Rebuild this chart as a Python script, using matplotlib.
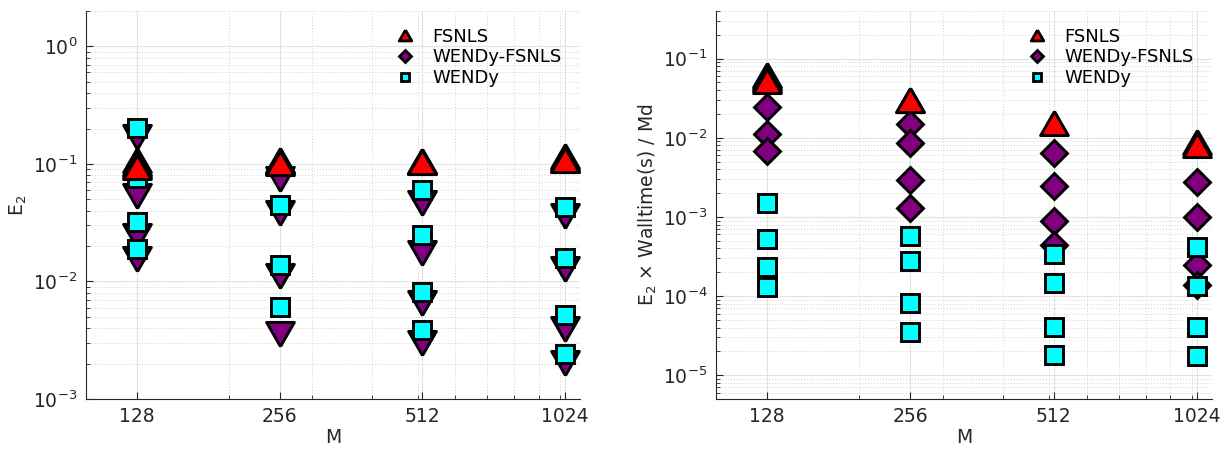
import numpy as np
import matplotlib
matplotlib.use("Agg")
import matplotlib.pyplot as plt
from matplotlib.lines import Line2D
from matplotlib.ticker import FixedLocator, NullFormatter, LogLocator

# number of observations per trajectory
M_values = [128, 256, 512, 1024]

# relative coefficient error E_2 (several noise levels per M)
err_fsnls = [
    [0.108, 0.102, 0.097, 0.094],
    [0.108, 0.105, 0.103, 0.101],
    [0.105, 0.104, 0.105, 0.104],
    [0.117, 0.112, 0.109, 0.109],
]
err_wendy_fsnls = [
    [0.169, 0.053, 0.0245, 0.0155],
    [0.074, 0.0381, 0.0111, 0.00359],
    [0.0463, 0.0175, 0.00658, 0.00301],
    [0.0359, 0.0128, 0.00395, 0.00204],
]
err_wendy = [
    [0.204, 0.0754, 0.0323, 0.0190],
    [0.0449, 0.0139, 0.0061],
    [0.060, 0.025, 0.0082, 0.0039],
    [0.043, 0.0157, 0.0052, 0.0024],
]

# E_2 x walltime / (M d)
cost_fsnls = [
    [0.062, 0.058, 0.055, 0.052],
    [0.0301, 0.0301],
    [0.0155],
    [0.0088, 0.0080],
]
cost_wendy_fsnls = [
    [0.0242, 0.0111, 0.0068],
    [0.0148, 0.00855, 0.00293, 0.00131],
    [0.0064, 0.00247, 0.000896, 0.00044],
    [0.00273, 0.00101, 0.000246, 0.000137],
]
cost_wendy = [
    [0.00149, 0.000532, 0.00023, 0.000129],
    [0.00058, 0.000274, 8.1e-5, 3.5e-5],
    [0.000335, 0.000145, 4.06e-5, 1.8e-5],
    [0.000422, 0.000133, 4.06e-5, 1.75e-5],
]

method_names = ["FSNLS", "WENDy-FSNLS", "WENDy"]

plt.rcParams['font.family'] = ['DejaVu Sans']
plt.rcParams['mathtext.fontset'] = 'dejavusans'
AX_COLOR = '#262626'
FS = 13.5

# matlab-like triangles: a bit wider than tall
tri_up = [(0, 0.87), (-1, -0.87), (1, -0.87), (0, 0.87)]
tri_down = [(0, -0.87), (-1, 0.87), (1, 0.87), (0, -0.87)]

EDGE = 2.1


def draw_series(ax, data, marker, color, ms, z):
    for i in range(len(M_values)):
        vals = data[i]
        xs = [M_values[i]] * len(vals)
        ax.plot(xs, vals, linestyle='none', marker=marker, markersize=ms,
                markerfacecolor=color, markeredgecolor='k',
                markeredgewidth=EDGE, zorder=z, clip_on=False)


def style_axes(ax, ylim, yticks):
    ax.set_xscale('log')
    ax.set_yscale('log')
    ax.set_xlim(100, 1100)
    ax.set_ylim(*ylim)
    ax.xaxis.set_major_locator(FixedLocator(M_values))
    ax.set_xticklabels([str(m) for m in M_values])
    ax.xaxis.set_minor_locator(FixedLocator(list(range(100, 1100, 100))))
    ax.xaxis.set_minor_formatter(NullFormatter())
    ax.yaxis.set_major_locator(FixedLocator(yticks))
    ax.yaxis.set_minor_locator(LogLocator(base=10, subs=np.arange(2, 10)))
    ax.yaxis.set_minor_formatter(NullFormatter())
    for side in ['top', 'right']:
        ax.spines[side].set_visible(False)
    for side in ['left', 'bottom']:
        ax.spines[side].set_color(AX_COLOR)
        ax.spines[side].set_linewidth(0.8)
    ax.tick_params(which='major', direction='in', length=5, width=0.8,
                   colors=AX_COLOR, labelsize=FS, pad=6)
    ax.tick_params(which='minor', direction='in', length=3, width=0.6,
                   colors=AX_COLOR)
    ax.grid(True, which='major', color='#e2e2e2', linestyle='-', linewidth=0.8)
    ax.grid(True, which='minor', color='#d2d2d2', linestyle=(0, (1, 2)),
            linewidth=0.7)
    ax.set_axisbelow(True)
    ax.set_xlabel('M', fontsize=FS, color=AX_COLOR, labelpad=1)


def add_legend(ax):
    handles = [
        Line2D([], [], linestyle='none', marker=tri_up, markersize=9,
               markerfacecolor='red', markeredgecolor='k', markeredgewidth=2),
        Line2D([], [], linestyle='none', marker='D', markersize=6,
               markerfacecolor='purple', markeredgecolor='k', markeredgewidth=2),
        Line2D([], [], linestyle='none', marker='s', markersize=6,
               markerfacecolor='cyan', markeredgecolor='k', markeredgewidth=2),
    ]
    ax.legend(handles, method_names, loc='upper right',
              bbox_to_anchor=(0.985, 0.985), frameon=False, fontsize=FS - 0.5,
              handlelength=1.2, handletextpad=0.9, labelspacing=0.15,
              borderaxespad=0.2)


fig = plt.figure(figsize=(12.2, 4.49), dpi=100)
ax1 = fig.add_axes([86 / 1220, 50 / 449, 494 / 1220, 388 / 449])
ax2 = fig.add_axes([716 / 1220, 50 / 449, 496 / 1220, 388 / 449])

# left: error
draw_series(ax1, err_wendy_fsnls, tri_down, 'purple', 20, 3)
draw_series(ax1, err_wendy, 's', 'cyan', 13.3, 4)
draw_series(ax1, err_fsnls, tri_up, 'red', 20, 5)
style_axes(ax1, (1e-3, 2), [1e-3, 1e-2, 1e-1, 1e0])
ax1.set_ylabel('E$_2$', fontsize=FS, color=AX_COLOR, labelpad=3)
add_legend(ax1)

# right: error scaled by cost
draw_series(ax2, cost_wendy_fsnls, 'D', 'purple', 13.3, 3)
draw_series(ax2, cost_wendy, 's', 'cyan', 13.3, 4)
draw_series(ax2, cost_fsnls, tri_up, 'red', 20, 5)
style_axes(ax2, (5e-6, 0.4), [1e-5, 1e-4, 1e-3, 1e-2, 1e-1])
ax2.set_ylabel('E$_2$ \u00d7 Walltime(s) / Md', fontsize=FS,
               color=AX_COLOR, labelpad=3)
add_legend(ax2)

fig.savefig('out.png', dpi=100)
